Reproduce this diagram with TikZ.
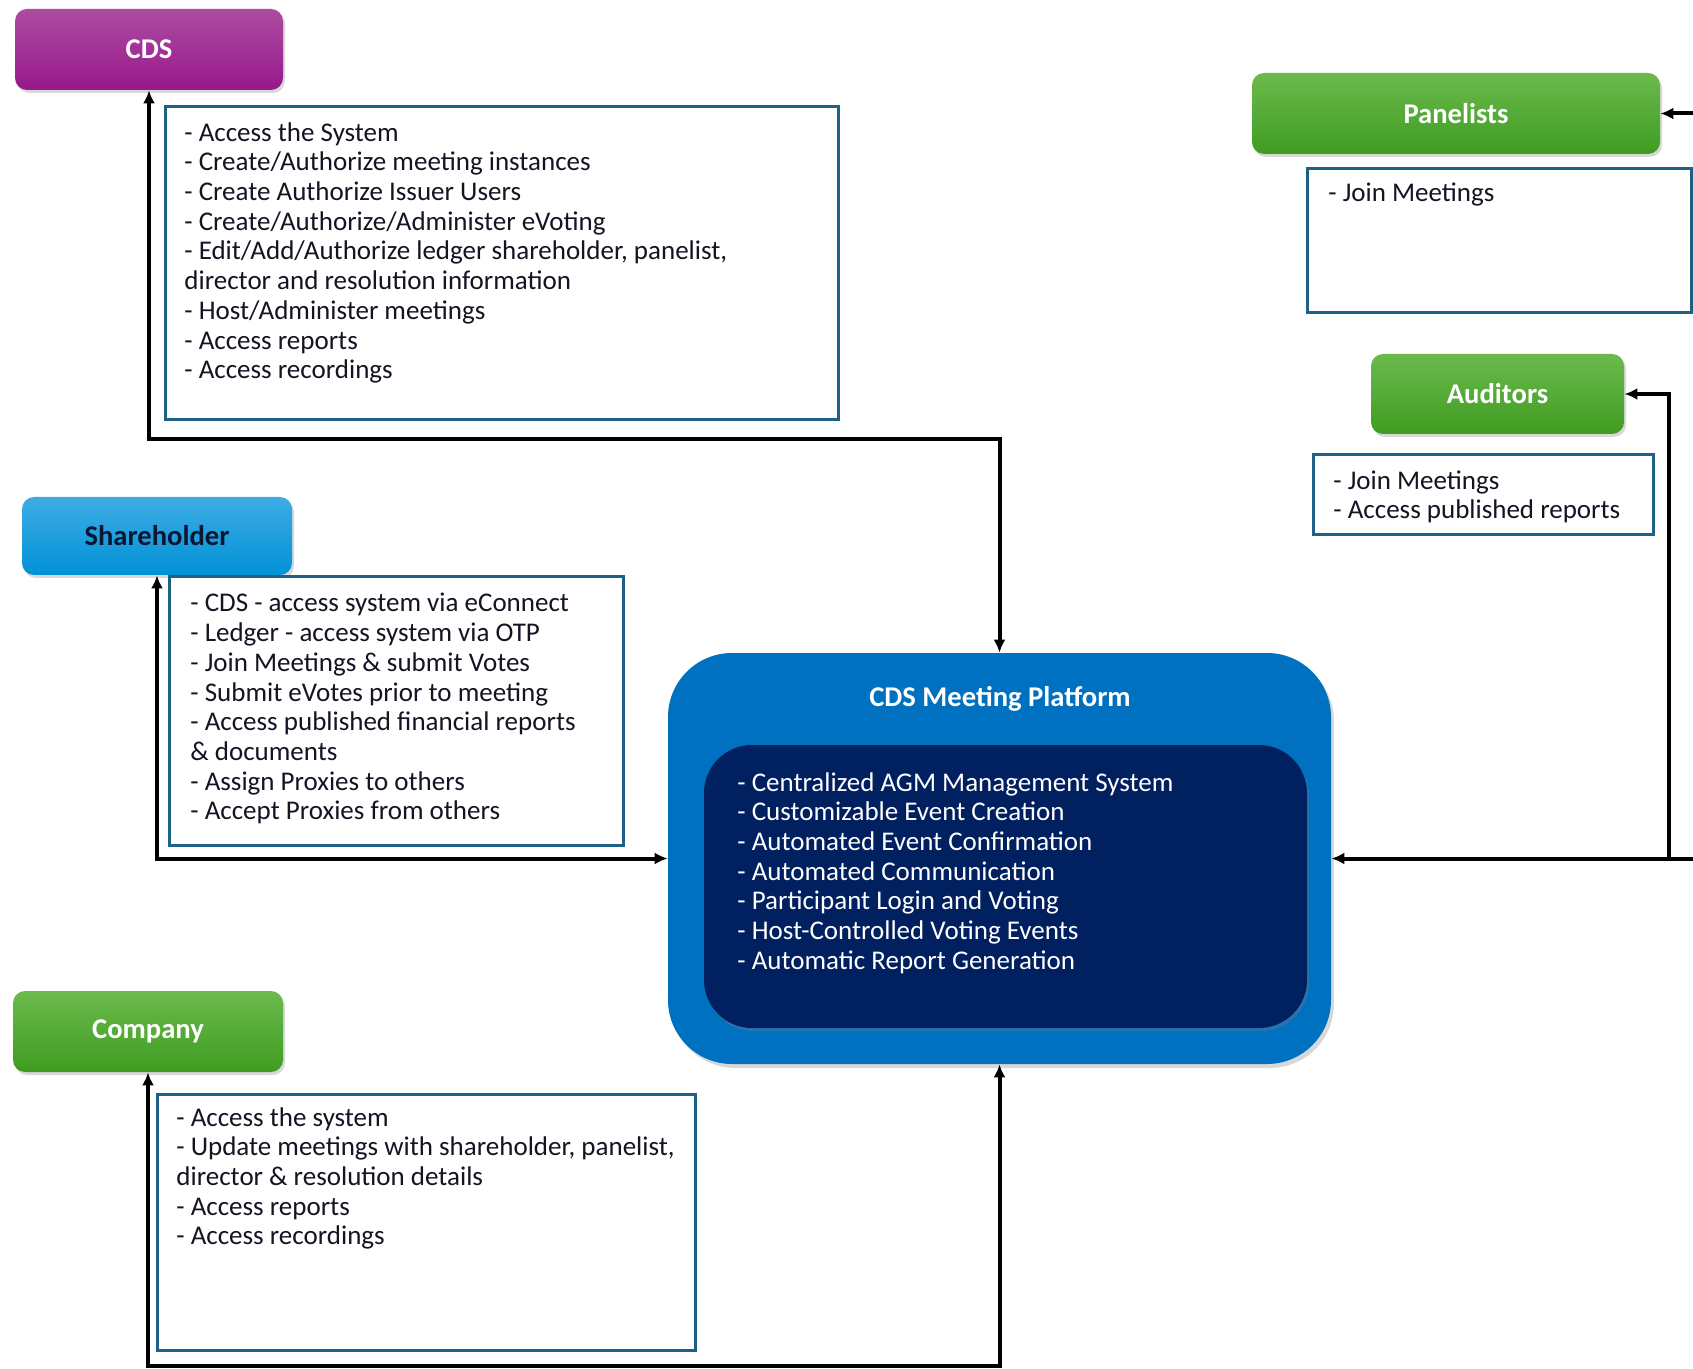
\documentclass[tikz,border=0pt]{standalone}
\usepackage{fontspec}
\setmainfont{Carlito}
\usetikzlibrary{arrows.meta,shadows}
\definecolor{purpleT}{RGB}{172,76,162}
\definecolor{purpleB}{RGB}{152,24,138}
\definecolor{greenT}{RGB}{108,186,76}
\definecolor{greenB}{RGB}{62,156,34}
\definecolor{blueT}{RGB}{62,172,228}
\definecolor{blueB}{RGB}{0,146,214}
\definecolor{platOuter}{RGB}{0,112,192}
\definecolor{platInner}{RGB}{0,32,96}
\definecolor{boxBorder}{RGB}{31,96,135}
\definecolor{shText}{RGB}{12,22,50}
\definecolor{bodyText}{RGB}{20,20,35}
\begin{document}
\begin{tikzpicture}[x=0.5pt,y=-0.5pt,
  actor/.style={rounded corners=6pt, inner sep=0pt, text=white,
    font={\fontsize{14.3}{16}\selectfont\bfseries},
    drop shadow={shadow xshift=1pt,shadow yshift=-1.5pt,opacity=0.3}},
  purplebox/.style={actor, top color=purpleT, bottom color=purpleB},
  greenbox/.style={actor, top color=greenT, bottom color=greenB},
  bluebox/.style={actor, top color=blueT, bottom color=blueB, text=shText},
  infobox/.style={draw=boxBorder, line width=1.5pt, fill=white, inner sep=0pt},
  infotext/.style={anchor=north west, inner sep=0pt, align=left, text=bodyText,
    font={\fontsize{13.5}{14.85}\selectfont}},
  conn/.style={line width=2pt, draw=black},
  tip/.tip={Latex[length=6.5pt,width=6pt]}
]
\useasboundingbox[fill=white] (0,0) rectangle (1693,1369);

% ---- platform ----
\node[rounded corners=32pt, fill=platOuter, minimum width=331.5pt, minimum height=205.5pt,
  drop shadow={shadow xshift=1.5pt,shadow yshift=-2pt,opacity=0.3}] (plat) at (999.5,858.5) {};
\node[rounded corners=24pt, fill=platInner, minimum width=301.5pt, minimum height=141.5pt,
  drop shadow={shadow xshift=1pt,shadow yshift=-1.5pt,opacity=0.3}] (platin) at (1005.5,886.5) {};
\node[text=white, font={\fontsize{14.3}{16}\selectfont\bfseries}] (plattitle) at (1000,699) {CDS Meeting Platform};
\node[anchor=north west, inner sep=0pt, align=left, text=white,
  font={\fontsize{13.5}{14.85}\selectfont}] (plattext) at (737,772)
  {- Centralized AGM Management System\\
   - Customizable Event Creation\\
   - Automated Event Confirmation\\
   - Automated Communication\\
   - Participant Login and Voting\\
   - Host-Controlled Voting Events\\
   - Automatic Report Generation};

% ---- actors ----
\node[purplebox, minimum width=134pt, minimum height=40.5pt] (cds) at (149,49.5) {CDS};
\node[greenbox, minimum width=204pt, minimum height=40.5pt] (pan) at (1456,113.5) {Panelists};
\node[greenbox, minimum width=126.5pt, minimum height=40pt] (aud) at (1497.5,394) {Auditors};
\node[bluebox, minimum width=135pt, minimum height=39pt] (sh) at (157,536) {Shareholder};
\node[greenbox, minimum width=135pt, minimum height=40.5pt] (comp) at (148,1031.5) {Company};

% ---- info boxes ----
\node[infobox, minimum width=336.5pt, minimum height=156.5pt] (cdsbox) at (501.5,263.5) {};
\node[infotext] (cdstext) at (184,122)
  {- Access the System\\
   - Create/Authorize meeting instances\\
   - Create Authorize Issuer Users\\
   - Create/Authorize/Administer eVoting\\
   - Edit/Add/Authorize ledger shareholder, panelist,\\
   director and resolution information\\
   - Host/Administer meetings\\
   - Access reports\\
   - Access recordings};

\node[infobox, minimum width=192pt, minimum height=72pt] (panbox) at (1499,241) {};
\node[infotext] (pantext) at (1328,182) {- Join Meetings};

\node[infobox, minimum width=170pt, minimum height=40pt] (audbox) at (1483,495) {};
\node[infotext] (audtext) at (1333,470) {- Join Meetings\\- Access published reports};

\node[infobox, minimum width=227pt, minimum height=134pt] (shbox) at (396,711) {};
\node[infotext] (shtext) at (190,593)
  {- CDS - access system via eConnect\\
   - Ledger - access system via OTP\\
   - Join Meetings \& submit Votes\\
   - Submit eVotes prior to meeting\\
   - Access published financial reports\\
   \& documents\\
   - Assign Proxies to others\\
   - Accept Proxies from others};

\node[infobox, minimum width=269pt, minimum height=128pt] (compbox) at (426,1222) {};
\node[infotext] (comptext) at (176,1107)
  {- Access the system\\
   - Update meetings with shareholder, panelist,\\
   director \& resolution details\\
   - Access reports\\
   - Access recordings};

% ---- connectors ----
\coordinate (cdsturn) at (149,439);
\coordinate (compturn) at (148,1366);
\coordinate (rightin) at (1693,858.5);
\coordinate (rightbranch) at (1669,858.5);
\coordinate (panin) at (1693,113.5);

\draw[conn, tip-tip] (cds.south) -- (cdsturn) -| (plat.north);
\draw[conn, tip-tip] (sh.south) |- (plat.west);
\draw[conn, tip-tip] (comp.south) -- (compturn) -| (plat.south);
\draw[conn, -tip] (rightin) -- (plat.east);
\draw[conn, -tip] (rightbranch) |- (aud.east);
\draw[conn, -tip] (panin) -- (pan.east);
\end{tikzpicture}
\end{document}
